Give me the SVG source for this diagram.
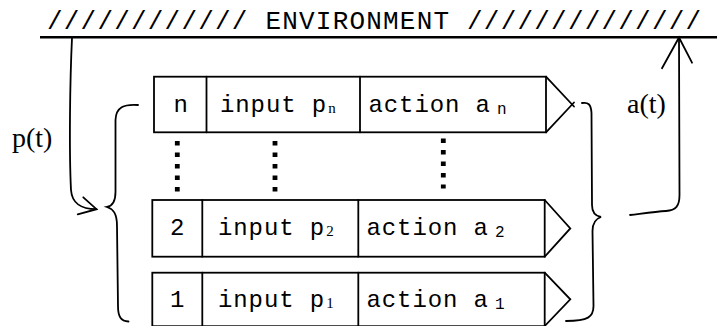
<svg xmlns="http://www.w3.org/2000/svg" width="717" height="326" viewBox="0 0 717 326">
  <style>
    .ln { fill: none; stroke: #000; stroke-width: 1.8; stroke-linejoin: miter; stroke-linecap: round; }
    .box { fill: #fff; stroke: #000; stroke-width: 1.8; }
    .mono { font-family: "Liberation Mono", "Courier New", monospace; fill: #000; }
    .cell { font-size: 24px; letter-spacing: 0.9px; }
    .subs { font-family: "Liberation Serif", "Times New Roman", serif; font-size: 15px; letter-spacing: 0; }
    .subm { font-size: 16px; letter-spacing: 0; }
    .serif { font-family: "Liberation Serif", "Times New Roman", serif; font-size: 28px; fill: #000; }
    .dots { fill: none; stroke: #000; stroke-width: 4.8; stroke-dasharray: 4.6 6.9; }
  </style>

  <rect width="717" height="326" fill="#fff"/>

  <!-- environment boundary -->
  <g id="environment">
    <text class="mono" x="47" y="29" font-size="26" letter-spacing="1.2">//////////// ENVIRONMENT //////////////</text>
    <line x1="40" y1="37.3" x2="717" y2="37.3" stroke="#000" stroke-width="2.6"/>
  </g>

  <!-- register row n -->
  <g id="row-n">
    <rect class="box" x="154" y="76.7" width="392" height="55.6"/>
    <line class="ln" x1="206.5" y1="76.7" x2="206.5" y2="132.3"/>
    <line class="ln" x1="360" y1="76.7" x2="360" y2="132.3"/>
    <line class="ln" x1="546" y1="76.7" x2="574" y2="106.5"/>
    <line class="ln" x1="546" y1="132.3" x2="574" y2="102.5"/>
    <text class="mono cell" x="173.5" y="112">n</text>
    <text class="mono cell" x="220" y="112">input p<tspan class="subs" dx="1" dy="1">n</tspan></text>
    <text class="mono cell" x="368.5" y="112">action a<tspan class="subm" dx="6" dy="2">n</tspan></text>
  </g>

  <!-- register row 2 -->
  <g id="row-2">
    <rect class="box" x="152.3" y="200" width="392.4" height="56.7"/>
    <line class="ln" x1="202.3" y1="200" x2="202.3" y2="256.7"/>
    <line class="ln" x1="358.3" y1="200" x2="358.3" y2="256.7"/>
    <polyline class="ln" points="544.7,200 570.3,228.4 544.7,256.7"/>
    <text class="mono cell" x="170" y="235">2</text>
    <text class="mono cell" x="218" y="235">input p<tspan class="subs" dx="1" dy="1">2</tspan></text>
    <text class="mono cell" x="366.5" y="235">action a<tspan class="subm" dx="6" dy="2">2</tspan></text>
  </g>

  <!-- register row 1 -->
  <g id="row-1">
    <rect class="box" x="152.3" y="272.7" width="392.4" height="53.5"/>
    <line class="ln" x1="202.3" y1="272.7" x2="202.3" y2="328"/>
    <line class="ln" x1="358.3" y1="272.7" x2="358.3" y2="328"/>
    <polyline class="ln" points="544.7,272.7 570.3,299.3 544.7,326"/>
    <text class="mono cell" x="170" y="307">1</text>
    <text class="mono cell" x="218" y="307">input p<tspan class="subs" dx="1" dy="1">1</tspan></text>
    <text class="mono cell" x="366.5" y="307">action a<tspan class="subm" dx="6" dy="2">1</tspan></text>
  </g>

  <!-- signal labels -->
  <g id="label-p">
    <text class="serif" x="12" y="146.5">p(t)</text>
  </g>
  <g id="label-a">
    <text class="serif" x="627" y="113">a(t)</text>
  </g>

  <g id="connectors">
    <!-- elided rows between n and 2 -->
    <line class="dots" x1="177.3" y1="141" x2="177.3" y2="192"/>
    <line class="dots" x1="275" y1="141" x2="275" y2="192"/>
    <line class="dots" x1="443.3" y1="138.4" x2="443.3" y2="188.5"/>

    <!-- p(t): environment into the register stack -->
    <path class="ln" d="M72,38 C70,80 69,150 71,190 C72,203 80,209 96.5,209.2"/>
    <polyline class="ln" points="83.3,197.3 96.5,209.2 77.7,214.3"/>

    <!-- brace gathering the inputs -->
    <path class="ln" d="M138,105 C124,104 116,107 115.5,120 L115.5,192 C115.5,202 112,206 107,207 C113,209 117,213 117,226 L118,306 C118,317 121,321 128.5,321.5"/>

    <!-- brace gathering the actions -->
    <path class="ln" d="M582,103 C588,102 591,104 591.5,113 L592,205 C592,212 595,216 601,217 C595,219 592.5,223 592.5,231 L593.5,306 C593.5,317 588,321 566,321"/>

    <!-- a(t): register stack out to the environment -->
    <path class="ln" d="M630,215 C646,213 656,211.5 666,211 C676,210.5 679.5,206 679.5,195 L679,38"/>
    <polyline class="ln" points="662,68.3 679,37.5 692,62.7"/>
  </g>
</svg>
